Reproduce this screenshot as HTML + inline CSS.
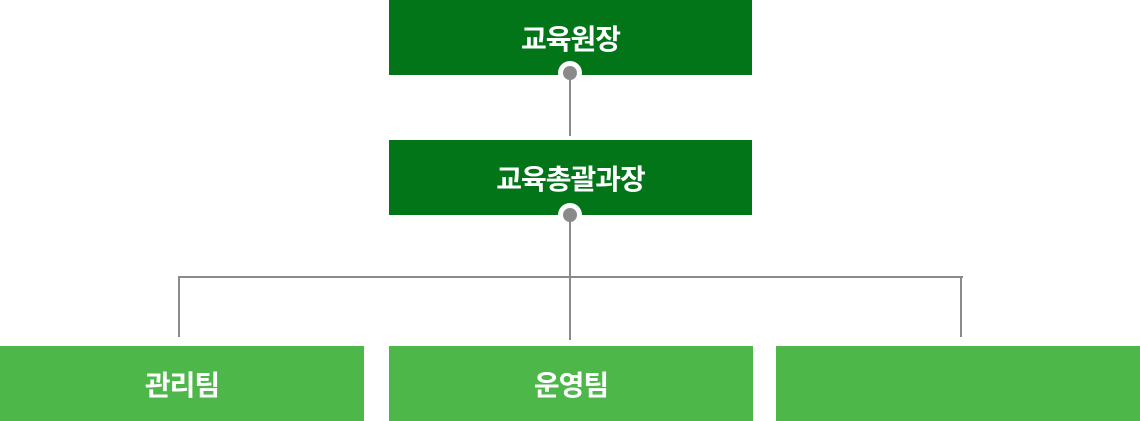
<!DOCTYPE html>
<html><head><meta charset="utf-8"><style>
body{margin:0;width:1140px;height:421px;background:#fff;position:relative;overflow:hidden;font-family:"Liberation Sans","Noto Sans CJK KR",sans-serif}
.b{position:absolute;color:#fff;font-weight:bold;font-size:28px;display:flex;align-items:center;justify-content:center;letter-spacing:-1px}
.d{background:#017518}.l{background:#4db74a}
.ln{position:absolute;background:#8a8a8a}
.ring{position:absolute;width:24px;height:24px;border-radius:50%;background:#fff}
.dot{position:absolute;width:14px;height:14px;border-radius:50%;background:#8a8a8a}
</style></head><body>
<div class="b d" style="left:389px;top:0;width:363px;height:75px">교육원장</div>
<div class="b d" style="left:389px;top:140px;width:363px;height:75px">교육총괄과장</div>
<div class="ring" style="left:558px;top:61px"></div>
<div class="ring" style="left:558px;top:203px"></div>
<div class="ln" style="left:569px;top:73px;width:2px;height:63px"></div>
<div class="ln" style="left:569px;top:215px;width:2px;height:125px"></div>
<div class="ln" style="left:178px;top:276px;width:785px;height:2px"></div>
<div class="ln" style="left:178px;top:276px;width:2px;height:61px"></div>
<div class="ln" style="left:960px;top:276px;width:2px;height:61px"></div>
<div class="dot" style="left:563px;top:66px"></div>
<div class="dot" style="left:563px;top:208px"></div>
<div class="b l" style="left:0;top:346px;width:364px;height:75px">관리팀</div>
<div class="b l" style="left:389px;top:346px;width:364px;height:75px">운영팀</div>
<div class="b l" style="left:776px;top:346px;width:364px;height:75px"></div>
</body></html>
